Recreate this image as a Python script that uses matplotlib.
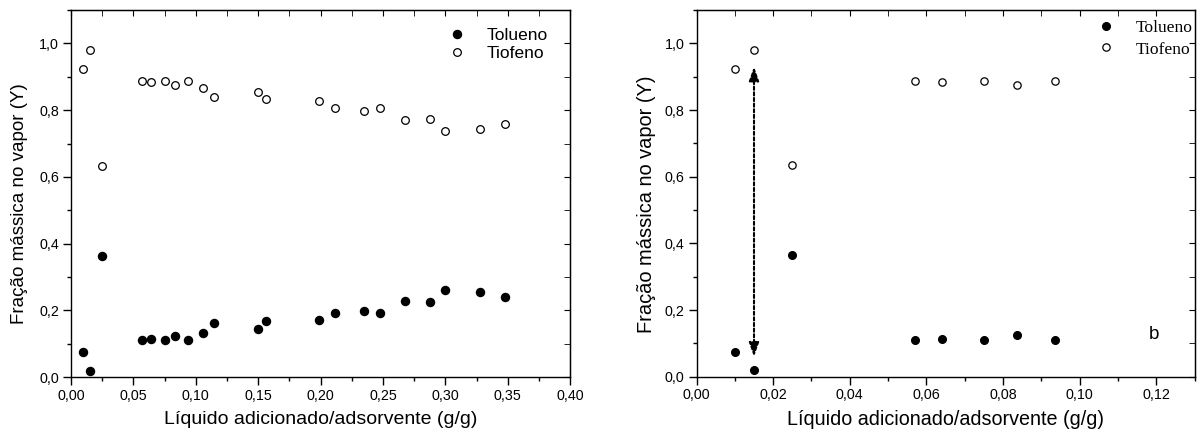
import numpy as np
import matplotlib
matplotlib.use("Agg")
import matplotlib.pyplot as plt
from matplotlib.ticker import MultipleLocator, FuncFormatter

plt.rcParams['font.family'] = ['Liberation Sans', 'DejaVu Sans']

# ----------------------------------------------------------
# data
# ----------------------------------------------------------

x_liq = [0.010, 0.015, 0.025, 0.057, 0.064, 0.075, 0.0836, 0.0935,
         0.1055, 0.1146, 0.1495, 0.156, 0.199, 0.2115, 0.2347, 0.2473,
         0.268, 0.288, 0.300, 0.328, 0.348]

y_tiofeno = [0.924, 0.980, 0.634, 0.888, 0.885, 0.887, 0.875, 0.887,
             0.866, 0.838, 0.855, 0.832, 0.829, 0.807, 0.799, 0.806,
             0.772, 0.775, 0.738, 0.744, 0.758]

y_tolueno = [0.075, 0.019, 0.364, 0.110, 0.113, 0.111, 0.124, 0.111,
             0.133, 0.161, 0.144, 0.167, 0.170, 0.192, 0.199, 0.193,
             0.228, 0.225, 0.261, 0.255, 0.241]

n_zoom = 8   # points shown in panel b

x_label = "Líquido adicionado/adsorvente (g/g)"
y_label = "Fração mássica no vapor (Y)"

comma = FuncFormatter(lambda v, p: f"{v:.2f}".replace(".", ","))
comma1 = FuncFormatter(lambda v, p: f"{v:.1f}".replace(".", ","))


def style_axes(ax, xmax, xmaj, xmin, lab_size, ylab_size):
    ax.set_xlim(0, xmax)
    ax.set_ylim(0, 1.1)
    ax.xaxis.set_major_locator(MultipleLocator(xmaj))
    ax.xaxis.set_minor_locator(MultipleLocator(xmin))
    ax.yaxis.set_major_locator(MultipleLocator(0.2))
    ax.yaxis.set_minor_locator(MultipleLocator(0.1))
    ax.xaxis.set_major_formatter(comma)
    ax.yaxis.set_major_formatter(comma1)
    ax.tick_params(which="both", direction="out", labelsize=10.3, width=1,
                   pad=3)
    ax.tick_params(which="major", length=5.5)
    ax.tick_params(which="minor", length=3)
    for s in ax.spines.values():
        s.set_linewidth(1.0)
    # inward ticks on top / right
    axt = ax.secondary_xaxis("top")
    axt.xaxis.set_major_locator(MultipleLocator(xmaj))
    axt.xaxis.set_minor_locator(MultipleLocator(xmin))
    axt.tick_params(which="both", direction="in", labeltop=False, length=4.5)
    axr = ax.secondary_yaxis("right")
    axr.yaxis.set_major_locator(MultipleLocator(0.2))
    axr.yaxis.set_minor_locator(MultipleLocator(0.1))
    axr.tick_params(which="both", direction="in", labelright=False,
                    length=4.5)
    ax.set_xlabel(x_label, fontsize=lab_size)
    ax.set_ylabel(y_label, fontsize=ylab_size)
    ax.xaxis.set_label_coords(0.5, -0.092)


fig = plt.figure(figsize=(12.03, 4.38), dpi=100)

# ------------------------------------
# panel a
# ------------------------------------
ax1 = fig.add_axes([0.059, 0.139, 0.415, 0.838])
ax1.plot(x_liq, y_tolueno, "o", color="black", ms=5.8, label="Tolueno")
ax1.plot(x_liq, y_tiofeno, "o", mfc="white", mec="black", mew=0.9,
         ms=5.5, label="Tiofeno")
style_axes(ax1, 0.40, 0.05, 0.025, 14, 13.5)
ax1.yaxis.set_label_coords(-0.086, 0.474)
ax1.legend(loc="upper left", frameon=False, fontsize=12.5,
           borderpad=0, borderaxespad=0, handlelength=1.0,
           handletextpad=1.22, labelspacing=0.17,
           bbox_to_anchor=(0.7555, 0.952))

# ------------------------------------
# panel b
# ------------------------------------
ax2 = fig.add_axes([0.579, 0.140, 0.414, 0.837])
ax2.plot(x_liq[:n_zoom], y_tolueno[:n_zoom], "o", color="black", ms=5.5,
         label="Tolueno")
ax2.plot(x_liq[:n_zoom], y_tiofeno[:n_zoom], "o", mfc="white", mec="black",
         mew=0.9, ms=5.3, label="Tiofeno")
style_axes(ax2, 0.13, 0.02, 0.01, 14.2, 14.4)
ax2.yaxis.set_label_coords(-0.082, 0.471)
ax2.legend(loc="upper left", frameon=False,
           prop={"family": "Liberation Serif", "size": 12.6},
           borderpad=0, borderaxespad=0, handlelength=1.0,
           handletextpad=1.21, labelspacing=0.29,
           bbox_to_anchor=(0.805, 0.973))

ax2.annotate("", xy=(x_liq[1], 0.06), xytext=(x_liq[1], 0.93),
             arrowprops=dict(arrowstyle="<|-|>,head_length=0.7,head_width=0.25",
                             linestyle=(0, (1.5, 1.2)),
                             color="black", lw=1.5, mutation_scale=12,
                             shrinkA=0, shrinkB=0))
ax2.text(0.1195, 0.127, "b", fontsize=13.5, ha="center", va="center")

fig.savefig("out.png", dpi=100)
